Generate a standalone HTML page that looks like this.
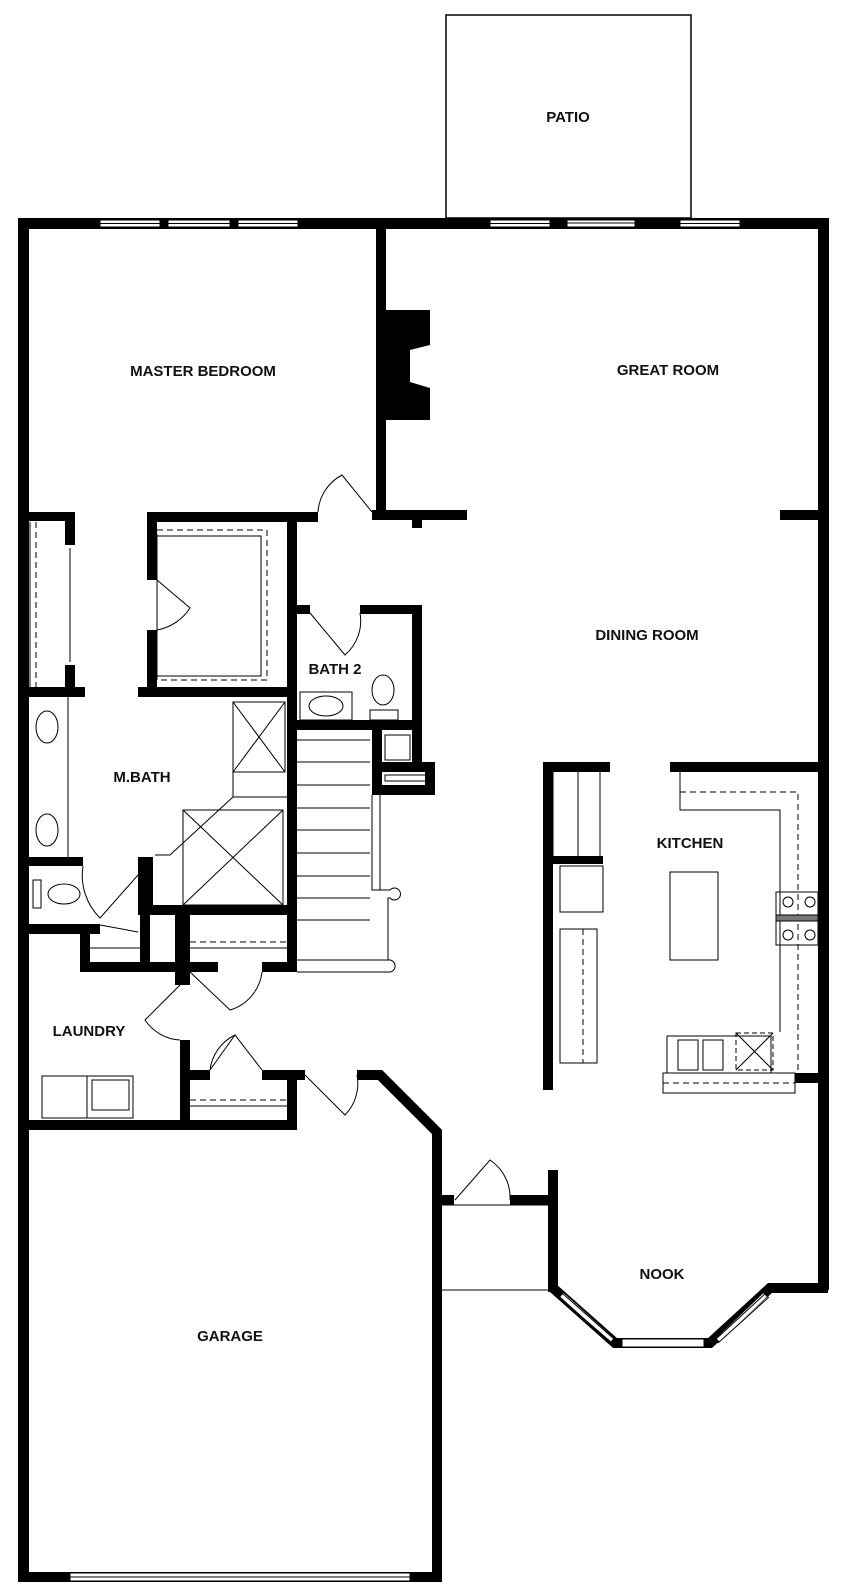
<!DOCTYPE html>
<html><head><style>
html,body{margin:0;padding:0;background:#fff;}
svg{display:block}
text{font-family:"Liberation Sans",sans-serif;font-weight:bold;font-size:15px;fill:#111;text-anchor:middle}
</style></head><body>
<svg width="860" height="1595" viewBox="0 0 860 1595" xmlns="http://www.w3.org/2000/svg">
<g fill="none" stroke="#000" stroke-width="1.5">
<!-- patio -->
<rect x="446" y="15" width="245" height="203"/>
</g>
<g fill="#000">
<!-- outer walls -->
<rect x="18" y="218" width="810" height="11"/>
<rect x="18" y="218" width="11" height="1364"/>
<rect x="818" y="218" width="11" height="1072"/>
<rect x="18" y="1572" width="424" height="10"/>
<rect x="432" y="1130" width="10" height="452"/>
<!-- great room divider & fireplace -->
<rect x="376" y="228" width="10" height="284"/>
<polygon points="386,310 430,310 430,345 410,350 410,382 430,388 430,420 386,420"/>
<rect x="372" y="510" width="95" height="10"/>
<rect x="412" y="518" width="10" height="10"/>
<rect x="780" y="510" width="40" height="10"/>
<!-- walk-in closet -->
<rect x="147" y="512" width="171" height="10"/>
<rect x="147" y="512" width="10" height="68"/>
<rect x="147" y="630" width="10" height="67"/>
<rect x="287" y="512" width="10" height="458"/>
<rect x="138" y="687" width="159" height="10"/>
<!-- left closet -->
<rect x="28" y="512" width="47" height="9"/>
<rect x="65" y="512" width="10" height="33"/>
<rect x="65" y="665" width="10" height="32"/>
<rect x="28" y="687" width="57" height="10"/>
<!-- master bath / toilet -->
<rect x="28" y="857" width="55" height="9"/>
<rect x="138" y="857" width="15" height="58"/>
<rect x="138" y="905" width="159" height="10"/>
<rect x="28" y="924" width="72" height="10"/>
<rect x="80" y="924" width="10" height="46"/>
<rect x="80" y="962" width="100" height="10"/>
<rect x="140" y="915" width="10" height="57"/>
<rect x="175" y="915" width="15" height="70"/>
<rect x="190" y="962" width="28" height="10"/>
<rect x="262" y="962" width="35" height="10"/>
<!-- laundry -->
<rect x="180" y="1040" width="10" height="90"/>
<rect x="180" y="1070" width="30" height="10"/>
<rect x="262" y="1070" width="43" height="10"/>
<rect x="287" y="1070" width="10" height="60"/>
<rect x="18" y="1120" width="279" height="10"/>
<!-- bath 2 -->
<rect x="360" y="605" width="62" height="9"/>
<rect x="412" y="605" width="10" height="160"/>
<rect x="297" y="605" width="13" height="9"/>
<rect x="297" y="720" width="125" height="10"/>
<rect x="372" y="720" width="10" height="75"/>
<rect x="372" y="762" width="63" height="10"/>
<rect x="425" y="762" width="10" height="33"/>
<rect x="372" y="785" width="63" height="10"/>
<!-- dining / kitchen -->
<rect x="543" y="762" width="10" height="328"/>
<rect x="543" y="762" width="67" height="10"/>
<rect x="553" y="856" width="50" height="8"/>
<rect x="670" y="762" width="158" height="10"/>
<rect x="795" y="1073" width="33" height="10"/>
<!-- entry -->
<rect x="442" y="1195" width="12" height="10"/>
<rect x="510" y="1195" width="40" height="10"/>
<rect x="548" y="1170" width="10" height="122"/>
</g>
<!-- garage top diagonal + nook bay -->
<g fill="none" stroke="#000" stroke-width="10" stroke-linejoin="miter">
<polyline points="297,1075 305,1075"/>
<polyline points="357,1075 380,1075 437,1132 437,1135"/>
<polyline points="553,1288 615,1343 710,1343 770,1288 828,1288"/>
</g>
<!-- windows -->
<g fill="#fff" stroke="#000" stroke-width="1">
<rect x="100" y="220" width="60" height="7"/>
<rect x="168" y="220" width="62" height="7"/>
<rect x="238" y="220" width="60" height="7"/>
<rect x="490" y="220" width="60" height="7"/>
<rect x="567" y="220" width="68" height="7"/>
<rect x="680" y="220" width="60" height="7"/>
<rect x="622" y="1339" width="82" height="8"/>
<rect x="70" y="1573" width="340" height="8"/>
</g>
<g stroke="#fff" stroke-width="5">
<line x1="562" y1="1295" x2="612" y2="1340"/>
<line x1="718" y1="1340" x2="765" y2="1295"/>
</g>
<g stroke="#000" stroke-width="1" fill="none">
<line x1="562" y1="1293" x2="614" y2="1339"/>
<line x1="560" y1="1298" x2="612" y2="1343"/>
<line x1="716" y1="1339" x2="767" y2="1292"/>
<line x1="718" y1="1343" x2="769" y2="1297"/>
<line x1="567" y1="223" x2="635" y2="223"/>
<line x1="100" y1="223.5" x2="160" y2="223.5"/>
<line x1="168" y1="223.5" x2="230" y2="223.5"/>
<line x1="238" y1="223.5" x2="298" y2="223.5"/>
<line x1="490" y1="223.5" x2="550" y2="223.5"/>
<line x1="680" y1="223.5" x2="740" y2="223.5"/>
<line x1="70" y1="1577" x2="410" y2="1577"/>
<!-- entry window -->
<rect x="515" y="1198" width="27" height="6"/>
<!-- doors -->
<path d="M372,512 L342,475 A45,45 0 0 0 318,512"/>
<path d="M157,580 L190,608 A50,50 0 0 1 157,630"/>
<path d="M310,613 L345,655 A45,45 0 0 0 360,613"/>
<path d="M83,866 A60,60 0 0 0 100,918 L138,875"/>
<path d="M100,925 L138,932"/>
<path d="M190,972 L230,1010 A45,45 0 0 0 262,972"/>
<path d="M180,985 L145,1020 A45,45 0 0 0 180,1040"/>
<path d="M210,1070 L235,1035 L262,1070"/>
<path d="M210,1070 A45,45 0 0 1 235,1035"/>
<path d="M305,1075 L345,1115 A45,45 0 0 0 357,1075"/>
<path d="M455,1200 L490,1160 A45,45 0 0 1 510,1200"/>
<!-- closets -->
<line x1="30" y1="522" x2="30" y2="687"/>
<line x1="36" y1="522" x2="36" y2="687" stroke-dasharray="6,4"/>
<line x1="70" y1="548" x2="70" y2="662"/>
<rect x="157" y="530" width="110" height="150" stroke-dasharray="6,4"/>
<rect x="157" y="536" width="104" height="140"/>
<line x1="190" y1="942" x2="287" y2="942" stroke-dasharray="6,4"/>
<line x1="190" y1="948" x2="287" y2="948"/>
<line x1="190" y1="1100" x2="287" y2="1100" stroke-dasharray="6,4"/>
<line x1="190" y1="1106" x2="287" y2="1106"/>
<line x1="90" y1="948" x2="140" y2="948"/>
<!-- M bath -->
<line x1="68" y1="697" x2="68" y2="857"/>
<ellipse cx="47" cy="727" rx="11" ry="16"/>
<ellipse cx="47" cy="830" rx="11" ry="16"/>
<rect x="33" y="880" width="8" height="28"/>
<ellipse cx="64" cy="894" rx="16" ry="10"/>
<rect x="233" y="702" width="52" height="70"/>
<line x1="233" y1="702" x2="285" y2="772"/><line x1="285" y1="702" x2="233" y2="772"/>
<path d="M233,702 L233,797 L287,797 M233,797 L170,855 L155,855"/>
<rect x="183" y="810" width="100" height="95"/>
<line x1="183" y1="810" x2="283" y2="905"/><line x1="283" y1="810" x2="183" y2="905"/>
<!-- bath 2 -->
<rect x="300" y="692" width="52" height="28"/>
<ellipse cx="326" cy="706" rx="17" ry="10"/>
<ellipse cx="383" cy="690" rx="11" ry="15"/>
<rect x="370" y="710" width="28" height="10"/>
<rect x="385" y="735" width="25" height="25"/>
<rect x="385" y="775" width="45" height="6"/>
<!-- stairs -->
<g>
<line x1="297" y1="740" x2="370" y2="740"/><line x1="297" y1="762" x2="370" y2="762"/>
<line x1="297" y1="785" x2="370" y2="785"/><line x1="297" y1="808" x2="370" y2="808"/>
<line x1="297" y1="830" x2="370" y2="830"/><line x1="297" y1="853" x2="370" y2="853"/>
<line x1="297" y1="876" x2="370" y2="876"/><line x1="297" y1="898" x2="370" y2="898"/>
<line x1="297" y1="920" x2="370" y2="920"/><line x1="297" y1="960" x2="390" y2="960"/>
<line x1="297" y1="972" x2="390" y2="972"/>
<path d="M372,795 L372,890 L390,890 A6,6 0 1 1 390,898 L388,898 L388,960 A6,6 0 1 1 390,972"/>
<line x1="380" y1="795" x2="380" y2="890"/>
</g>
<!-- kitchen -->
<line x1="553" y1="772" x2="553" y2="856"/>
<line x1="578" y1="772" x2="578" y2="856"/>
<line x1="600" y1="772" x2="600" y2="856"/>
<rect x="560" y="866" width="43" height="46"/>
<rect x="560" y="929" width="37" height="134"/>
<line x1="583" y1="929" x2="583" y2="1063" stroke-dasharray="6,4"/>
<path d="M680,772 L680,810 L780,810 L780,1032"/>
<path d="M680,792 L798,792 L798,1073" stroke-dasharray="6,4"/>
<rect x="670" y="872" width="48" height="88"/>
<rect x="776" y="892" width="42" height="53"/>
<circle cx="788" cy="902" r="5"/><circle cx="810" cy="902" r="5"/>
<circle cx="788" cy="935" r="5"/><circle cx="810" cy="935" r="5"/>
<rect x="776" y="915" width="42" height="6" fill="#777"/>
<rect x="667" y="1036" width="104" height="37"/>
<rect x="678" y="1040" width="20" height="30"/><rect x="703" y="1040" width="20" height="30"/>
<rect x="736" y="1033" width="37" height="37" stroke-dasharray="5,3"/>
<line x1="736" y1="1033" x2="773" y2="1070"/><line x1="773" y1="1033" x2="736" y2="1070"/>
<rect x="663" y="1073" width="132" height="20"/>
<line x1="663" y1="1083" x2="795" y2="1083" stroke-dasharray="6,4"/>
<!-- entry -->
<path d="M442,1205 L548,1205 M442,1290 L548,1290"/>
<!-- laundry -->
<rect x="42" y="1076" width="45" height="42"/>
<rect x="87" y="1076" width="46" height="42"/>
<rect x="92" y="1080" width="37" height="30"/>
</g>
<text x="568" y="122">PATIO</text>
<text x="203" y="376">MASTER BEDROOM</text>
<text x="668" y="375">GREAT ROOM</text>
<text x="647" y="640">DINING ROOM</text>
<text x="335" y="674">BATH 2</text>
<text x="142" y="782">M.BATH</text>
<text x="690" y="848">KITCHEN</text>
<text x="89" y="1036">LAUNDRY</text>
<text x="662" y="1279">NOOK</text>
<text x="230" y="1341">GARAGE</text>
</svg>
</body></html>
